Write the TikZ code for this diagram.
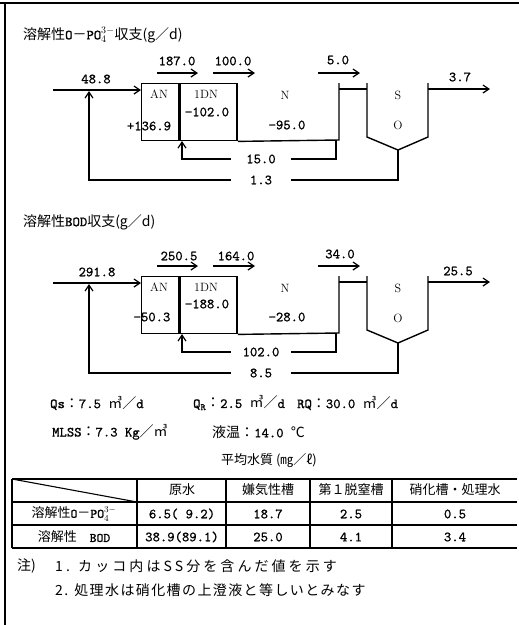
\documentclass[tikz,border=0pt]{standalone}
\usepackage{fontspec}
\newfontfamily\cjk{Noto Sans CJK JP}
\newfontfamily\numfont{lmmono10-regular.otf}[FakeBold=1]
\usetikzlibrary{arrows.meta}
\newcommand\jc[1]{{\cjk #1}}
\newcommand\pofour{{\numfont O}\jc{－}{\numfont PO}$^{3-}_{4}$}
\tikzset{
  ln/.style={line width=1.4pt},
  arr/.style={line width=1.4pt,-{Straight Barb[length=6pt,width=8pt,line width=1.2pt]}},
  tank/.style={draw,line width=1.4pt,minimum height=57pt,inner sep=0pt,anchor=north west},
  num/.style={font=\numfont\fontsize{14}{14}\selectfont,inner sep=0pt},
  lbl/.style={font=\fontsize{12}{12}\selectfont,inner sep=0pt},
  gap/.style={num,fill=white,minimum width=60pt,minimum height=12pt},
  jtxt/.style={font=\cjk\fontsize{14}{16}\selectfont,inner sep=0pt},
  cell/.style={font=\cjk\fontsize{13}{15}\selectfont,inner sep=0pt},
  cnum/.style={font=\numfont\fontsize{14}{15}\selectfont,inner sep=0pt},
  thick/.style={line width=1.8pt},
  thin/.style={line width=1.1pt}
}
\newcommand\plant[2]{%
  \node[tank,minimum width=37pt] (AN) at (141,83) {};
  \node[tank,minimum width=57pt] (DN) at (AN.north east) {};
  \coordinate (Nb) at (339,140);
  \coordinate (Nt) at (339,83);
  \draw[ln] (DN.south east) -- (Nb) -- (Nt);
  \coordinate (c1) at (339,89);
  \coordinate (c2) at (367,89);
  \draw[ln] (c1) -- (c2);
  \coordinate (Sl) at (367,83);
  \coordinate (Slb) at (367,137);
  \coordinate (apex) at (398,150);
  \coordinate (Srb) at (428,137);
  \coordinate (Sr) at (428,83);
  \draw[ln] (Sl) -- (Slb) -- (apex) -- (Srb) -- (Sr);
  \coordinate (in) at (53,90);
  \draw[arr] (in) -- (AN.west |- in);
  \coordinate (o1) at (428,89);
  \coordinate (o2) at (490,89);
  \draw[arr] (o1) -- (o2);
  \coordinate (r0) at (336,140);
  \node[gap] (rl) at (261,159) {#1};
  \coordinate (r1) at (182,159);
  \coordinate (r2) at (182,141);
  \draw[ln] (r0) |- (rl.east);
  \draw[arr] (rl.west) -- (r1) -- (r2);
  \node[gap] (sl) at (261,180) {#2};
  \coordinate (s1) at (89,180);
  \coordinate (s2) at (89,91);
  \draw[ln] (apex) |- (sl.east);
  \draw[arr] (sl.west) -- (s1) -- (s2);
  \coordinate (t1a) at (157,73); \coordinate (t1b) at (198,73);
  \coordinate (t2a) at (213,73); \coordinate (t2b) at (255,73);
  \coordinate (t3a) at (318,73); \coordinate (t3b) at (360,73);
  \draw[arr] (t1a) -- (t1b);
  \draw[arr] (t2a) -- (t2b);
  \draw[arr] (t3a) -- (t3b);
  \node[lbl] (lAN) at (159,94) {AN};
  \node[lbl] (lDN) at (206,94) {1DN};
  \node[lbl] (lN) at (285,95) {N};
  \node[lbl] (lS) at (398,95) {S};
  \node[lbl] (lO) at (398,125) {O};
}
\begin{document}
\begin{tikzpicture}[x=1pt,y=-1pt]
\useasboundingbox (0,0) rectangle (519,625);
% frame
\coordinate (f0) at (0,3);
\coordinate (f1) at (519,3);
\coordinate (f2) at (5,3);
\coordinate (f3) at (5,625);
\draw[thick] (f0) -- (f1);
\draw[thick] (f2) -- (f3);

% ---------- diagram 1
\node[jtxt,anchor=west] (title1) at (23,35) {溶解性\pofour 収支(g／d)};
\begin{scope}[name prefix=a-]
  \plant{15.0}{1.3}
  \node[num] (v1) at (96,79) {48.8};
  \node[num] (v2) at (177,61) {187.0};
  \node[num] (v3) at (233,61) {100.0};
  \node[num] (v4) at (338,60) {5.0};
  \node[num] (v5) at (460,77) {3.7};
  \node[num] (v6) at (207,112) {−102.0};
  \node[num] (v7) at (149,126) {+136.9};
  \node[num] (v8) at (287,125) {−95.0};
\end{scope}

% ---------- diagram 2
\node[jtxt,anchor=west] (title2) at (23,222) {溶解性{\numfont BOD}収支(g／d)};
\begin{scope}[shift={(0,193)},name prefix=b-]
  \plant{102.0}{8.5}
  \node[num] (v1) at (97,79) {291.8};
  \node[num] (v2) at (179,63) {250.5};
  \node[num] (v3) at (236,63) {164.0};
  \node[num] (v4) at (340,61) {34.0};
  \node[num] (v5) at (458,78) {25.5};
  \node[num] (v6) at (207,111) {−188.0};
  \node[num] (v7) at (152,124) {−50.3};
  \node[num] (v8) at (287,124) {−28.0};
\end{scope}

% ---------- conditions
\node[cnum,anchor=west] (q1) at (50,403) {Qs\jc{：}7.5 \jc{㎥／}d};
\node[cnum,anchor=west] (q2) at (193,403) {Q\textsubscript{R}\jc{：}2.5 \jc{㎥／}d};
\node[cnum,anchor=west] (q3) at (297,403) {RQ\jc{：}30.0 \jc{㎥／}d};
\node[cnum,anchor=west] (m1) at (52,432) {MLSS\jc{：}7.3 K\textit{g}\jc{／㎥}};
\node[cnum,anchor=west] (m2) at (212,432) {\jc{液温：}14.0 \jc{℃}};

% ---------- table
\node[cell] (ttl) at (269,461) {平均水質 (㎎／ℓ)};
\draw[thick] (12,479) -- (517,479);
\draw[thin] (12,502) -- (517,502);
\draw[thin] (12,525) -- (517,525);
\draw[thick] (12,548) -- (517,548);
\draw[thick] (12,479) -- (12,548);
\draw[thin] (137,479) -- (137,548);
\draw[thin] (226,479) -- (226,548);
\draw[thin] (310,479) -- (310,548);
\draw[thin] (392,479) -- (392,548);
\draw[thin] (12,479) -- (137,502);
\node[cell] (h1) at (182,490) {原水};
\node[cell] (h2) at (268,490) {嫌気性槽};
\node[cell] (h3) at (351,490) {第１脱窒槽};
\node[cell] (h4) at (455,490) {硝化槽・処理水};
\node[cell] (r1h) at (74,514) {溶解性\pofour};
\node[cnum] (r1a) at (182,514) {6.5( 9.2)};
\node[cnum] (r1b) at (268,514) {18.7};
\node[cnum] (r1c) at (351,514) {2.5};
\node[cnum] (r1d) at (455,514) {0.5};
\node[cell] (r2h) at (74,537) {溶解性　{\numfont BOD}};
\node[cnum] (r2a) at (182,537) {38.9(89.1)};
\node[cnum] (r2b) at (268,537) {25.0};
\node[cnum] (r2c) at (351,537) {4.1};
\node[cnum] (r2d) at (455,537) {3.4};

% ---------- notes
\node[jtxt,anchor=west] (n0) at (17,566) {注)};
\node[jtxt,anchor=west] (n1) at (55,566) {\addfontfeature{LetterSpace=22}1. カッコ内はSS分を含んだ値を示す};
\node[jtxt,anchor=west] (n2) at (55,590) {\addfontfeature{LetterSpace=10}2. 処理水は硝化槽の上澄液と等しいとみなす};
\end{tikzpicture}
\end{document}
